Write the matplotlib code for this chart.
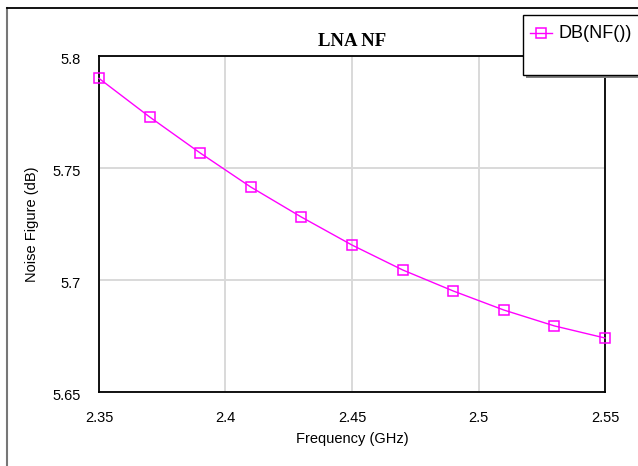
import matplotlib
matplotlib.use("Agg")
import matplotlib.pyplot as plt
import matplotlib.transforms as mtransforms
from matplotlib.lines import Line2D
from matplotlib.patches import Rectangle

# noise figure sweep
freq_ghz = [2.35, 2.37, 2.39, 2.41, 2.43, 2.45, 2.47, 2.49, 2.51, 2.53, 2.55]
nf_db = [5.790, 5.7728, 5.7567, 5.7415, 5.7281, 5.7156, 5.7045, 5.6951, 5.6866, 5.6795, 5.6741]

x_ticks = [2.35, 2.4, 2.45, 2.5, 2.55]
x_labels = ["2.35", "2.4", "2.45", "2.5", "2.55"]
y_ticks = [5.65, 5.7, 5.75, 5.8]
y_labels = ["5.65", "5.7", "5.75", "5.8"]

SERIES = "DB(NF())"
MAGENTA = "#ff00ff"
W, H = 638, 466

plt.rcParams["font.family"] = ["Liberation Sans", "DejaVu Sans"]

fig = plt.figure(figsize=(W / 100, H / 100), dpi=100)
ax = fig.add_axes([99 / W, 1 - 392 / H, (605 - 99) / W, (392 - 56) / H])

ax.plot(freq_ghz, nf_db, "-", color=MAGENTA, lw=1.0, marker="s", ms=7.5,
        mfc="none", mec=MAGENTA, mew=1.1, clip_on=False, zorder=3)

ax.set_xlim(2.35, 2.55)
ax.set_ylim(5.65, 5.8)
ax.set_xticks(x_ticks)
ax.set_xticklabels(x_labels)
ax.set_yticks(y_ticks)
ax.set_yticklabels(y_labels)
ax.tick_params(length=0, labelsize=10.5)
ax.tick_params(axis="x", pad=14)
ax.tick_params(axis="y", pad=13)
# y labels sit a few pixels below their gridline in the original
shift = mtransforms.ScaledTranslation(0, -3 / 100, fig.dpi_scale_trans)
for lab in ax.get_yticklabels():
    lab.set_transform(lab.get_transform() + shift)
ax.grid(True, color="#d9d9d9", lw=1.4)
ax.set_axisbelow(True)
for s in ax.spines.values():
    s.set_linewidth(1.3)
    s.set_color("black")

ax.set_xlabel("Frequency (GHz)", fontsize=10.5, labelpad=5)
ax.set_ylabel("Noise Figure (dB)", fontsize=10.5, labelpad=10)
ax.set_title("LNA NF", family="Liberation Serif", fontweight="bold",
             fontsize=13.5, pad=7)

# outer frame (left + top edges only visible)
fig.add_artist(Line2D([7 / W, 7 / W], [0, 1 - 8 / H], transform=fig.transFigure,
                      color="#777777", lw=1.5))
fig.add_artist(Line2D([7 / W, 1], [1 - 8 / H, 1 - 8 / H], transform=fig.transFigure,
                      color="black", lw=1.3))

# legend box with shadow
fig.add_artist(Rectangle((526 / W, 1 - 78 / H), 1, 60 / H, transform=fig.transFigure,
                         facecolor="#808080", edgecolor="none"))
fig.add_artist(Rectangle((523 / W, 1 - 75 / H), 1, 60 / H, transform=fig.transFigure,
                         facecolor="white", edgecolor="black", lw=1.0))
fig.add_artist(Line2D([530 / W, 552 / W], [1 - 33 / H, 1 - 33 / H], transform=fig.transFigure,
                      color=MAGENTA, lw=1.0))
fig.add_artist(Line2D([541 / W], [1 - 33 / H], transform=fig.transFigure, color=MAGENTA,
                      marker="s", ms=7.5, mfc="none", mec=MAGENTA, mew=1.1))
fig.text(559 / W, 1 - 33 / H, SERIES, fontsize=13, va="center", ha="left")

fig.savefig("out.png", dpi=100)
